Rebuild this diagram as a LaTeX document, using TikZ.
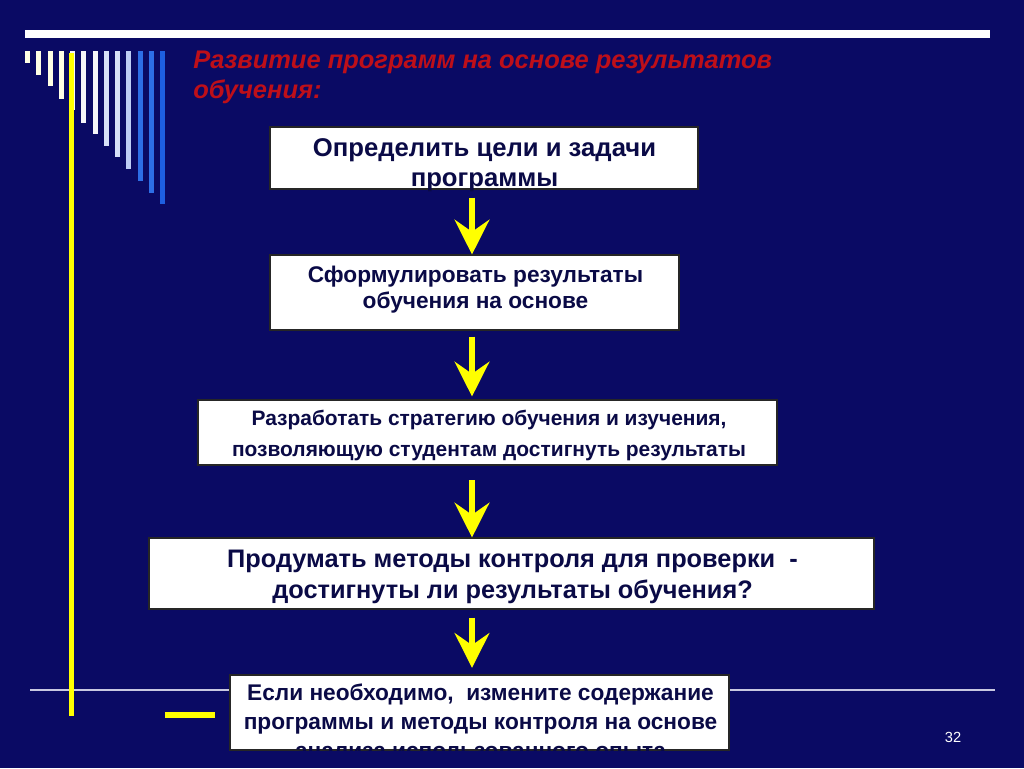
\documentclass[tikz,border=0pt]{standalone}
\usepackage{fontspec}
\setmainfont{Liberation Sans}
\usetikzlibrary{arrows.meta}
\definecolor{bg}{RGB}{10,10,100}
\definecolor{titlered}{RGB}{190,15,25}
\definecolor{boxtext}{RGB}{10,10,70}
\definecolor{arryellow}{RGB}{255,255,0}
\definecolor{cA}{RGB}{255,255,228}
\definecolor{cB}{RGB}{245,245,250}
\definecolor{cC}{RGB}{215,225,248}
\definecolor{cD}{RGB}{190,205,245}
\definecolor{cE}{RGB}{45,110,230}
\definecolor{cF}{RGB}{30,95,225}
\definecolor{thinline}{RGB}{200,200,225}
\tikzset{
  box/.style={draw=black!85, line width=0.8pt, fill=white, inner sep=0pt},
  btext/.style={inner sep=0pt, text=boxtext, align=center},
  arr/.style={draw=arryellow, line width=4.5pt, -{Stealth[length=26pt,width=26pt,inset=9pt,fill=arryellow]}},
}
\begin{document}
\begin{tikzpicture}[x=0.75pt,y=-0.75pt]
\useasboundingbox (0,0) rectangle (1024,768);
\fill[bg] (0,0) rectangle (1024,768);
% top white line
\fill[white] (25,30) rectangle (990,38);
% thin line
\draw[thinline, line width=1.2pt] (30,690) -- (995,690);
% bars
\foreach \i/\c/\b in {0/cA/63,1/cA/75,2/cA/86,3/cA/99,4/cB/110,5/cB/123,6/cB/134,7/cC/146,8/cC/157,9/cD/169,10/cE/181,11/cE/193,12/cF/204}{
  \fill[\c] ({25.2+11.25*\i},51) rectangle ({30.2+11.25*\i},\b);
}
% yellow lines
\fill[arryellow] (68.5,53) rectangle (73.5,716);
\fill[arryellow] (165,712) rectangle (215,718);
% title
\node[anchor=north west, font=\bfseries\itshape\fontsize{19.1}{22.5}\selectfont, text=titlered, align=left, inner sep=0pt] (title) at (193,51) {Развитие программ на основе результатов\\обучения:};
% boxes
\node[box, minimum width=321pt, minimum height=46.5pt] (b1) at (484,158) {};
\node[btext, font=\bfseries\fontsize{19.25}{22.5}\selectfont] (t1) at (484.5,165) {Определить цели и задачи\\программы};
\node[box, minimum width=306.75pt, minimum height=56.25pt] (b2) at (474.5,292.5) {};
\node[btext, font=\bfseries\fontsize{17}{19.5}\selectfont] (t2) at (475.5,290) {Сформулировать результаты\\обучения на основе};
\node[box, minimum width=434.25pt, minimum height=48.75pt] (b3) at (487.5,432.5) {};
\node[btext, font=\bfseries\fontsize{15.7}{23.25}\selectfont] (t3) at (489,435.5) {Разработать стратегию обучения и изучения,\\позволяющую студентам достигнуть результаты};
\node[box, minimum width=543.75pt, minimum height=53.25pt] (b4) at (511.5,573.5) {};
\node[btext, font=\bfseries\fontsize{19}{23.25}\selectfont] (t4) at (512.5,576.5) {Продумать методы контроля для проверки\ \ -\\достигнуты ли результаты обучения?};
\node[box, minimum width=374.25pt, minimum height=56.25pt] (b5) at (479.5,712.5) {};
\begin{scope}
  \clip (b5.south west) rectangle (b5.north east);
  \node[btext, anchor=north, font=\bfseries\fontsize{17}{21.75}\selectfont] (t5) at (480.5,684) {Если необходимо,\ \ измените содержание\\программы и методы контроля на основе\\анализа использованного опыта};
\end{scope}
% arrows
\coordinate (ax) at (472,0);
\draw[arr] ([yshift=-6pt]b1.south -| ax) -- (b2.north -| ax);
\draw[arr, shorten >=2.25pt] ([yshift=-4.5pt]b2.south -| ax) -- (b3.north -| ax);
\draw[arr] ([yshift=-11pt]b3.south -| ax) -- (b4.north -| ax);
\draw[arr, shorten >=5pt] ([yshift=-6pt]b4.south -| ax) -- (b5.north -| ax);
% page number
\node[text=white, font=\fontsize{11}{13}\selectfont, inner sep=0pt] (pn) at (953,737) {32};
\end{tikzpicture}
\end{document}
